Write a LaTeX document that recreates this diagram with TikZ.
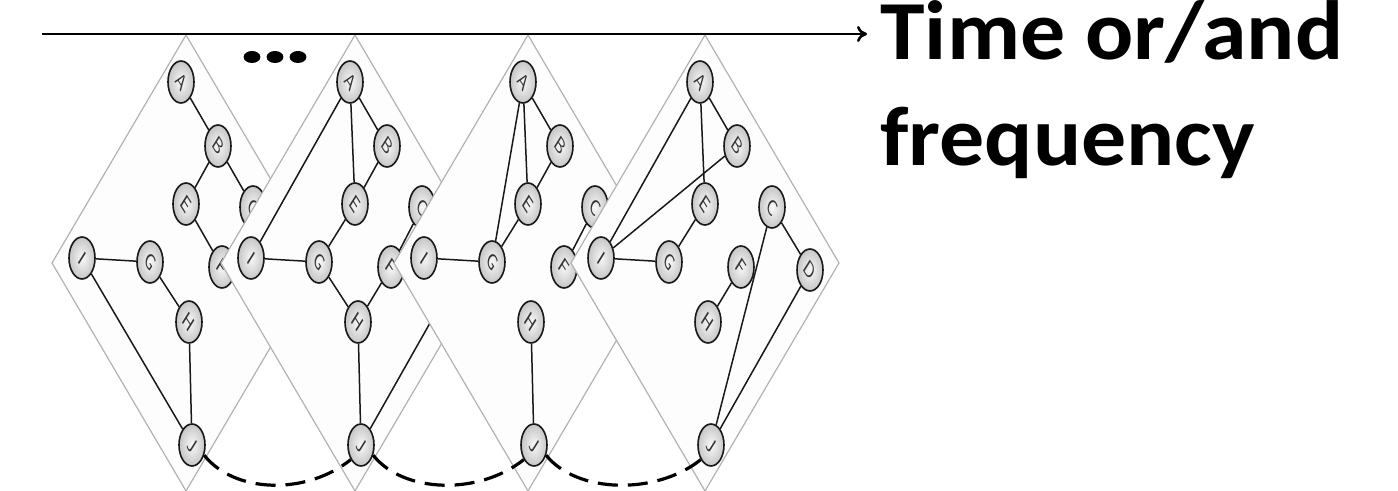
\documentclass[tikz,border=0pt]{standalone}
\usepackage{fontspec}
\usepackage{graphicx}
\usetikzlibrary{shapes.geometric,arrows.meta,calc}
\newfontfamily\calfont{Carlito}
\newcommand\nodeletter[1]{\scalebox{1}[1.6]{\rotatebox{-45}{#1}}}
\tikzset{
  panel/.style={draw=gray!60, line width=0.6pt, fill=gray!1.5},
  vx/.style={ellipse, draw=black!90, line width=0.8pt, minimum width=13pt,
    minimum height=21pt, inner sep=0pt, inner color=gray!5, outer color=gray!45,
    font=\sffamily\fontsize{7}{7}\selectfont, text=black!80},
  edge/.style={draw=black!90, line width=0.75pt},
  link/.style={black, line width=1.6pt, dash pattern=on 10pt off 5pt},
  timearrow/.style={line width=1.3pt, -{To[length=5pt,width=8pt]}},
  bigtext/.style={font=\calfont\bfseries\fontsize{42}{54}\selectfont, inner sep=0pt}
}
\newcommand\netpanel[2]{%
  \draw[panel] (#2,35) -- (#2+134,263) -- (#2,491) -- (#2-134,263) -- cycle;
  \node[vx] (a#1) at (#2-5,82)  {\nodeletter{A}};
  \node[vx] (b#1) at (#2+32,146) {\nodeletter{B}};
  \node[vx] (c#1) at (#2+67,207) {\nodeletter{C}};
  \node[vx] (e#1) at (#2,204)   {\nodeletter{E}};
  \node[vx] (f#1) at (#2+36,267) {\nodeletter{F}};
  \node[vx] (g#1) at (#2-36,262) {\nodeletter{G}};
  \node[vx] (h#1) at (#2+3,322)  {\nodeletter{H}};
  \node[vx] (i#1) at (#2-104,258) {\nodeletter{I}};
  \node[vx] (j#1) at (#2+6,445)  {\nodeletter{J}};
}
\begin{document}
\begin{tikzpicture}[x=0.5pt,y=-0.5pt]
\useasboundingbox (0,0) rectangle (1398,491);
% panel 1
\netpanel{1}{186}
\draw[edge] (a1)--(b1) (b1)--(e1) (b1)--(c1) (e1)--(f1) (i1)--(g1) (g1)--(h1) (h1)--(j1) (i1)--(j1);
% panel 2
\netpanel{2}{355}
\node[vx] (d2) at (355+105,270) {\nodeletter{D}};
\draw[edge] (a2)--(b2) (a2)--(e2) (b2)--(e2) (a2)--(i2) (e2)--(g2) (i2)--(g2) (c2)--(f2) (f2)--(h2) (g2)--(h2) (h2)--(j2) (j2)--(d2);
% panel 3
\netpanel{3}{528}
\draw[edge] (a3)--(b3) (a3)--(e3) (b3)--(e3) (a3)--(g3) (e3)--(g3) (i3)--(g3) (c3)--(f3) (h3)--(j3);
% panel 4
\netpanel{4}{705}
\node[vx] (d4) at (705+105,270) {\nodeletter{D}};
\draw[edge] (a4)--(b4) (a4)--(e4) (a4)--(i4) (b4)--(i4) (e4)--(g4) (i4)--(g4) (f4)--(h4) (c4)--(d4) (c4)--(j4) (d4)--(j4);
% dashed links between J nodes
\draw[link] (j1.-40) .. controls +(30,38) and +(-45,36) .. (j2.-125);
\draw[link] (j2.-40) .. controls +(30,38) and +(-45,36) .. (j3.-125);
\draw[link] (j3.-40) .. controls +(30,38) and +(-45,36) .. (j4.-125);
% dots
\fill (252,57) ellipse [x radius=4.2pt, y radius=3pt];
\fill (275,57) ellipse [x radius=4.2pt, y radius=3pt];
\fill (298,57) ellipse [x radius=4.2pt, y radius=3pt];
% time axis
\coordinate (tstart) at (42,34);
\coordinate (tend) at (867,34);
\draw[timearrow] (tstart) -- (tend);
\node[bigtext, anchor=base west] (t1) at (880,60) {\scalebox{1.07}[1]{Time or/and}};
\node[bigtext, anchor=base west] (t2) at (880,166) {\scalebox{1.07}[1]{frequency}};
\end{tikzpicture}
\end{document}
